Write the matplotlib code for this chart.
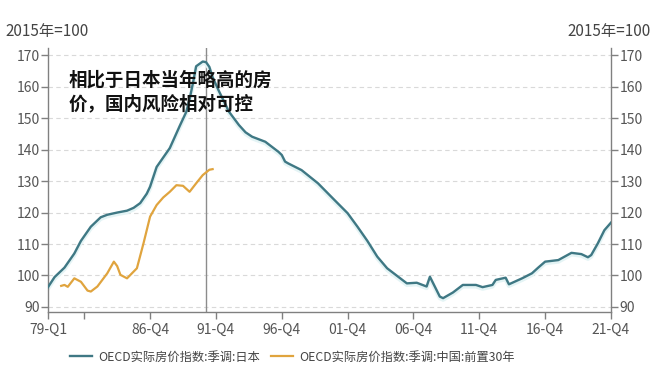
import matplotlib.pyplot as plt

plt.rcParams['font.family'] = ['Noto Sans CJK SC', 'DejaVu Sans']

# === Daten (Quartalsindex ab 79-Q1 = 0) ===
jp_q = [0, 2, 5, 8, 10, 13, 16, 18, 21, 24, 26, 28, 30, 31, 33, 35, 37, 40, 42, 43,
        44, 45, 47, 48, 49, 50, 52, 55, 58, 60, 62, 66, 68, 70, 71, 72, 73, 77, 82,
        87, 91, 94, 97, 100, 103, 107, 109, 112, 115, 116, 117, 119, 120, 123, 126,
        130, 132, 135, 136, 139, 140, 144, 147, 149, 151, 155, 159, 162, 164, 165,
        167, 169, 171]
jp_v = [96.3, 99.5, 102.5, 107, 111, 115.5, 118.5, 119.3, 120, 120.6, 121.5, 123,
        126, 128.2, 134.5, 137.5, 140.5, 147.5, 152, 156, 161, 166.5, 168, 167.8,
        166.3, 163, 158.4, 152, 147.8, 145.5, 144.1, 142.5, 140.9, 139.3, 138.3,
        136.2, 135.6, 133.5, 129.3, 124, 119.8, 115.5, 111, 106, 102.3, 99.1, 97.5,
        97.7, 96.5, 99.6, 97.5, 93.3, 92.8, 94.6, 97, 97, 96.3, 97, 98.6, 99.3, 97.2,
        99.1, 100.7, 102.6, 104.4, 104.9, 107.2, 106.8, 105.8, 106.5, 110.2, 114.4,
        116.8]

cn_q = [4, 5, 6, 8, 10, 12, 13, 15, 18, 20, 21, 22, 24, 27, 29, 31, 33, 35, 37, 39,
        41, 43, 45, 47, 49, 50]
cn_v = [96.7, 97, 96.4, 99.1, 98, 95.2, 94.9, 96.5, 100.7, 104.4, 103, 100.2, 99.1,
        102.3, 110.2, 118.7, 122.4, 124.8, 126.6, 128.7, 128.5, 126.6, 129.3, 131.9,
        133.6, 133.8]

x_ticks = [0, 11, 31, 51, 71, 91, 111, 131, 151, 171]
x_labels = ['79-Q1', '', '86-Q4', '91-Q4', '96-Q4', '01-Q4', '06-Q4', '11-Q4',
            '16-Q4', '21-Q4']
y_ticks = [90, 100, 110, 120, 130, 140, 150, 160, 170]
vline_q = 48  # 91-Q1

fig = plt.figure(figsize=(6.55, 3.72), dpi=100)
ax = fig.add_axes([0.0733, 0.1613, 0.8595, 0.7097])

# Gitter
for y in y_ticks:
    ax.axhline(y, color='#d9d9d9', linestyle=(0, (4, 3)), linewidth=0.8, zorder=0)
ax.axvline(vline_q, color='#8c8c8c', linewidth=1.0, zorder=1)

# leichter Schein unter der Linie
ax.plot(jp_q, [v - 0.5 for v in jp_v], color='#e4f4f5', linewidth=3, zorder=2,
        solid_capstyle='round')
ax.plot(jp_q, jp_v, color='#3f7884', linewidth=1.7, zorder=3,
        label='OECD实际房价指数:季调:日本')
ax.plot(cn_q, cn_v, color='#e0a43e', linewidth=1.6, zorder=3,
        label='OECD实际房价指数:季调:中国:前置30年')

ax.set_xlim(0, 171)
ax.set_ylim(88.4, 172.3)
ax.set_xticks(x_ticks)
ax.set_xticklabels(x_labels)
ax.set_yticks(y_ticks)

ax.spines['top'].set_visible(False)
for s in ['left', 'right', 'bottom']:
    ax.spines[s].set_color('#808080')
    ax.spines[s].set_linewidth(1.0)

ax.tick_params(axis='both', colors='#808080', labelcolor='#555555', labelsize=10,
               length=5, width=1.0)
ax.tick_params(axis='y', right=True, labelright=True, pad=1)
ax.tick_params(axis='x', pad=3)

fig.text(0.008, 0.915, '2015年=100', fontsize=11, color='#444444', va='center')
fig.text(0.993, 0.915, '2015年=100', fontsize=11, color='#444444', va='center',
         ha='right')

ax.text(0.036, 0.915, '相比于日本当年略高的房\n价，国内风险相对可控', transform=ax.transAxes,
        fontsize=13.3, fontweight='bold', color='#111111', va='top', ha='left',
        linespacing=1.35, zorder=5)

fig.legend(loc='center', bbox_to_anchor=(0.446, 0.04), ncol=2, frameon=False,
           fontsize=8.8, handlelength=1.8, handletextpad=0.5, columnspacing=0.9,
           labelcolor='#444444')

fig.savefig('out.png', dpi=100)
